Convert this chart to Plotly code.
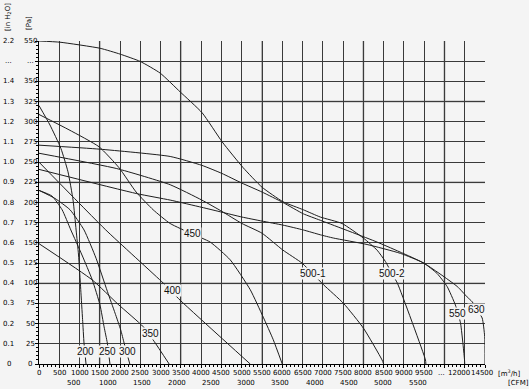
import numpy as np
import plotly.graph_objects as go

# ---------------- data (m3/h, Pa) ----------------
q200 = [0, 270, 540, 715, 840, 915, 975, 1030, 1075, 1110, 1160]
p200 = [320, 296, 267, 238, 203, 166, 135, 92, 55, 26, 0]

q250 = [0, 320, 570, 785, 1060, 1315, 1505, 1605, 1685, 1750]
p250 = [215, 208, 191, 166, 135, 104, 73, 46, 26, 0]

q300 = [0, 395, 765, 1111, 1407, 1686, 1876, 2017, 2099, 2240]
p300 = [215, 205, 191, 166, 131, 90, 63, 42, 26, 0]

q350 = [0, 1316, 1950, 2575, 2840, 3210]
p350 = [149, 104, 74, 46, 28, 0]

q400 = [0, 1647, 3069, 3481, 5210]
p400 = [250, 166, 100, 79, 0]

q450 = [0, 741, 1481, 1975, 2395, 2815, 3235, 3778, 4222, 4716, 5210, 5531, 5778, 6000]
p450 = [309, 290, 269, 243, 213, 191, 174, 161, 151, 129, 92, 58, 30, 0]

q500_1 = [0, 1918, 3235, 4017, 4511, 5005, 5499, 6017, 6486, 6765, 7020, 7513, 8007, 8461, 8500]
p500_1 = [261, 242, 222, 203, 189, 174, 162, 141, 125, 111, 98, 75, 44, 5, 0]

q500_2 = [0, 518, 1506, 2000, 2494, 2988, 3481, 4025, 4519, 5037, 5499, 6017, 6519, 6938,
          7474, 8000, 8338, 8543, 8716, 8840, 9580, 9605]
p500_2 = [550, 544, 514, 485, 449, 391, 337, 311, 275, 243, 219, 201, 191, 182,
          174, 156, 141, 127, 111, 100, 5, 0]

q550 = [0, 1506, 3235, 4017, 4511, 5005, 5499, 6017, 6519, 6938, 8338, 9488,
        10300, 10913, 11425, 11738, 11988, 12000]
p550 = [271, 266, 257, 246, 236, 224, 213, 200, 186, 178, 151, 125,
        112, 96, 73, 51, 5, 0]

q630 = [0, 2412, 3235, 4017, 4511, 5005, 5499, 6017, 6519, 6938, 7259, 8091, 8914, 9488,
        11538, 12300, 12925, 13450, 14150, 14460, 14500]
p630 = [241, 211, 203, 194, 188, 182, 177, 172, 166, 160, 156, 148, 137, 125,
        96, 83, 77, 68, 57, 34, 0]

curve_names = ["200", "250", "300", "350", "400", "450", "500-1", "500-2", "550", "630"]
curve_q = [q200, q250, q300, q350, q400, q450, q500_1, q500_2, q550, q630]
curve_p = [p200, p250, p300, p350, p400, p450, p500_1, p500_2, p550, p630]

# axis tick labels
flow_ticks = [0, 500, 1000, 1500, 2000, 2500, 3000, 3500, 4000, 4500, 5000,
              5500, 6000, 6500, 7000, 7500, 8000, 8500, 9000, 9500]
flow_tail_labels = ["...", "12000", "14500"]
cfm_ticks = [500, 1000, 1500, 2000, 2500, 3000, 3500, 4000, 4500, 5000, 5500]
pa_labels = ["0", "25", "50", "75", "100", "125", "150", "175", "200", "225", "250",
             "275", "300", "325", "350", "...", "550"]
inh2o_labels = ["0", "0.1", "0.2", "0.3", "0.4", "0.5", "0.6", "0.7", "0.8", "0.9", "1.0",
                "1.1", "1.2", "1.3", "1.4", "...", "2.2"]

# ---------------- broken-scale mapping ----------------
FLOW_BREAKS = [0, 9500, 12000, 14500]
FLOW_POS = [0, 19, 21, 22]
PA_BREAKS = [0, 350, 550]
PA_POS = [0, 14, 16]
M3H_PER_CFM = 1.699


def qpos(q):
    return np.interp(q, FLOW_BREAKS, FLOW_POS)


def ppos(p):
    return np.interp(p, PA_BREAKS, PA_POS)


BG = "#f4f4f4"
LINE = "#1e1e1e"
TICKFONT = dict(family="DejaVu Sans", size=7, color="#000")
LABELFONT = dict(family="Liberation Sans", size=10, color="#111")
C = dict(showarrow=False, xanchor="center", yanchor="middle")

fig = go.Figure()
for name, q, p in zip(curve_names, curve_q, curve_p):
    fig.add_trace(go.Scatter(x=qpos(q), y=ppos(p), mode="lines", name=name,
                             line=dict(color=LINE, width=1, shape="spline", smoothing=0.5),
                             hoverinfo="skip", showlegend=False))

# curve label placement (axis-position units)
label_pos = {
    "200": (2.27, 0.64), "250": (3.38, 0.64), "300": (4.37, 0.64),
    "350": (5.48, 1.53), "400": (6.57, 3.66), "450": (7.56, 6.44),
    "500-1": (13.53, 4.46), "500-2": (17.43, 4.46), "550": (20.64, 2.48),
    "630": (21.6, 2.72),
}
ann = []
for name in curve_names:
    x, y = label_pos[name]
    ann.append(dict(x=x, y=y, xref="x", yref="y", text=name,
                    font=LABELFONT, bgcolor=BG, borderpad=0, **C))

# x tick labels (m3/h)
for v in flow_ticks:
    ann.append(dict(x=qpos(v), y=0, xref="x", yref="paper", yshift=-8.5, text=str(v),
                    font=TICKFONT, **C))
tail_x = [20, 21, 22]
tail_shift = [-3, -6, -3]
for t, x, s in zip(flow_tail_labels, tail_x, tail_shift):
    ann.append(dict(x=x, y=0, xref="x", yref="paper", yshift=-8.5, xshift=s, text=t,
                    font=TICKFONT, **C))
ann.append(dict(x=1, y=0, xref="paper", yref="paper", xshift=24, yshift=-8.5,
                text="[m<sup>3</sup>/h]", font=TICKFONT, **C))
# CFM row
for c in cfm_ticks:
    ann.append(dict(x=qpos(c * M3H_PER_CFM), y=0, xref="x", yref="paper", yshift=-19,
                    text=str(c), font=TICKFONT, **C))
ann.append(dict(x=1, y=0, xref="paper", yref="paper", xshift=33, yshift=-19,
                text="[CFM]", font=TICKFONT, **C))

# y labels
for i, (pl, il) in enumerate(zip(pa_labels, inh2o_labels)):
    ann.append(dict(x=0, y=i, xref="paper", yref="y", xshift=-9, text=pl,
                    font=TICKFONT, **C))
    ann.append(dict(x=0, y=i, xref="paper", yref="y", xshift=-30.5, text=il,
                    font=TICKFONT, **C))
ann.append(dict(x=0, y=1, xref="paper", yref="paper", xshift=-31, yshift=24,
                text="[in H<sub>2</sub>O]", textangle=-90, font=TICKFONT, **C))
ann.append(dict(x=0, y=1, xref="paper", yref="paper", xshift=-10, yshift=18,
                text="[Pa]", textangle=-90, font=TICKFONT, **C))

# lighter grid lines
shapes = []
for gx in [3, 7, 11, 16, 20]:
    shapes.append(dict(type="line", xref="x", yref="paper", x0=gx, x1=gx, y0=0, y1=1,
                       line=dict(color="#b4b4b4", width=2), layer="between"))
for gy in [4, 9, 13]:
    shapes.append(dict(type="line", xref="paper", yref="y", x0=0, x1=1, y0=gy, y1=gy,
                       line=dict(color="#b4b4b4", width=2), layer="between"))

axis_common = dict(showgrid=True, gridcolor="#3a3a3a", gridwidth=1, zeroline=False,
                   showline=True, linecolor="#000", linewidth=1, showticklabels=False,
                   ticks="outside", ticklen=3, tickcolor="#000",
                   minor=dict(tickmode="linear", tick0=0, dtick=0.2, ticks="outside",
                              ticklen=2, tickcolor="#000", showgrid=False),
                   fixedrange=True)

fig.update_layout(
    width=529, height=389,
    margin=dict(l=39, r=44, t=41, b=25),
    paper_bgcolor=BG, plot_bgcolor=BG,
    xaxis=dict(range=[0, 22], tickmode="array", tickvals=list(range(23)), **axis_common),
    yaxis=dict(range=[0, 16], tickmode="array", tickvals=list(range(17)), **axis_common),
    annotations=ann, shapes=shapes, showlegend=False,
)

fig.write_html("out.html", config={"displayModeBar": False},
               post_script="document.body.style.margin='0px';"
                           "document.body.style.background='" + BG + "';")
